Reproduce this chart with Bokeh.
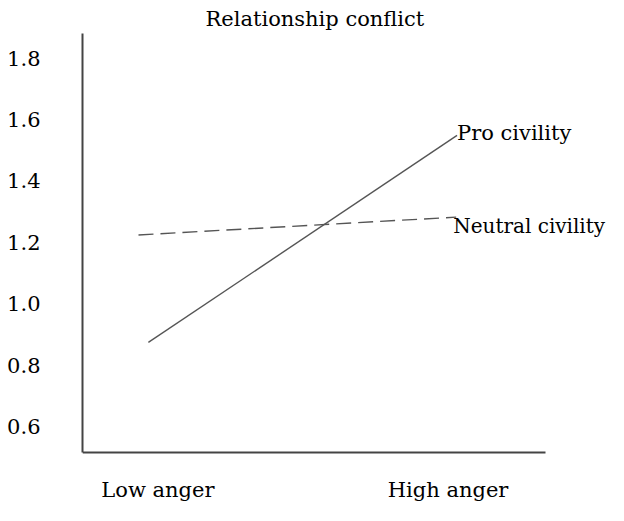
from bokeh.plotting import figure
from bokeh.models import Range1d, FixedTicker, PrintfTickFormatter, Label
from bokeh.embed import file_html
from bokeh.resources import INLINE

# ---- data ----
categories = ["Low anger", "High anger"]
category_pos = [0, 1]
y_ticks = [0.6, 0.8, 1.0, 1.2, 1.4, 1.6, 1.8]

pro_x = [-0.033, 1.031]
pro_y = [0.874, 1.548]
neutral_x = [-0.067, 1.028]
neutral_y = [1.224, 1.282]

series_names = ["Pro civility", "Neutral civility"]
title_text = "Relationship conflict"

FONT = "DejaVu Serif"
FS = "21px"

# axis extents (data units)
X_START, X_AXIS_END, X_END = -0.260, 1.336, 1.553
Y_AXIS_BOTTOM, Y_END, Y_START = 0.515, 1.880, 0.343

p = figure(width=608, height=505, output_backend="svg", toolbar_location=None,
           x_range=Range1d(X_START, X_END), y_range=Range1d(Y_START, Y_END),
           min_border_left=82, min_border_right=0, min_border_top=33,
           min_border_bottom=0)
p.outline_line_color = None
p.xgrid.visible = False
p.ygrid.visible = False
p.background_fill_color = "white"
p.border_fill_color = "white"

p.title.text = title_text
p.title.align = "left"
p.title.offset = 123
p.title.text_font = FONT
p.title.text_font_size = FS
p.title.text_font_style = "normal"
p.title.text_color = "black"
p.title.standoff = 5

# axes
p.yaxis.ticker = FixedTicker(ticks=y_ticks)
p.yaxis.formatter = PrintfTickFormatter(format="%.1f")
p.yaxis.bounds = (Y_AXIS_BOTTOM, Y_END)
p.xaxis.ticker = FixedTicker(ticks=category_pos)
p.xaxis.major_label_overrides = {pos: lab for pos, lab in zip(category_pos, categories)}
p.xaxis.bounds = (X_START, X_AXIS_END)
p.xaxis.fixed_location = Y_AXIS_BOTTOM
for ax in (p.xaxis, p.yaxis):
    ax.major_tick_line_color = None
    ax.minor_tick_line_color = None
    ax.major_tick_out = 0
    ax.major_tick_in = 0
    ax.axis_line_color = "#444444"
    ax.axis_line_width = 2
    ax.axis_label_standoff = 0
    ax.major_label_text_font = FONT
    ax.major_label_text_font_size = FS
    ax.major_label_text_color = "black"
p.yaxis.major_label_standoff = 42
p.xaxis.major_label_standoff = 25

# lines
p.line(pro_x, pro_y, line_color="#555555", line_width=1.4)
p.line(neutral_x, neutral_y, line_color="#555555", line_width=1.4, line_dash="15 7")

# end labels
p.add_layout(Label(x=pro_x[-1], y=pro_y[-1], text=series_names[0], x_offset=0, y_offset=2,
                   text_baseline="middle", text_align="left", text_font=FONT,
                   text_font_size=FS, text_color="black"))
p.add_layout(Label(x=neutral_x[-1], y=neutral_y[-1], text=series_names[1], x_offset=-3, y_offset=-9,
                   text_baseline="middle", text_align="left", text_font=FONT,
                   text_font_size="20px", text_color="black"))

open("out.html", "w").write(file_html(p, INLINE))
